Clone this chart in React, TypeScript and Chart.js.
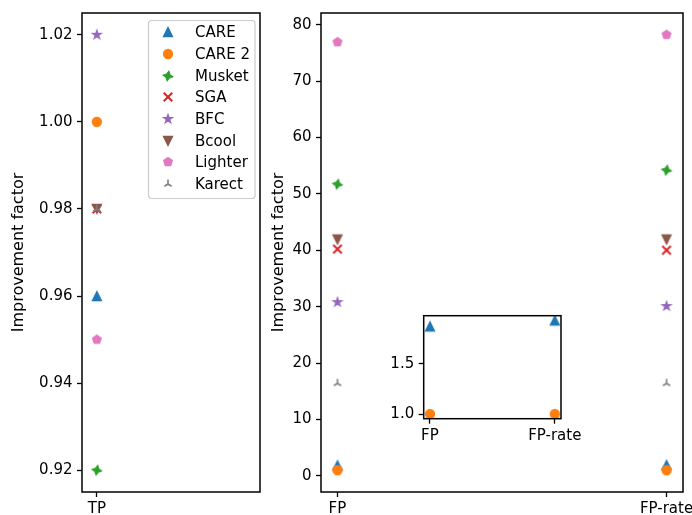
import React, { useEffect, useRef } from 'react';
import { Chart, registerables } from 'chart.js';
Chart.register(...registerables);

// ---------- data ----------
const methods = ['CARE', 'CARE 2', 'Musket', 'SGA', 'BFC', 'Bcool', 'Lighter', 'Karect'];
const colors = ['#1f77b4', '#ff7f0e', '#2ca02c', '#d62728', '#9467bd', '#8c564b', '#e377c2', '#7f7f7f'];
const markerKinds = ['triangleUp', 'circle', 'star4', 'x', 'star5', 'triangleDown', 'pentagon', 'triUp'];
const tpCategories = ['TP'];
const fpCategories = ['FP', 'FP-rate'];
const tpValues = [0.96, 1.0, 0.92, 0.98, 1.02, 0.98, 0.95, 0.98];
const fpValues = [1.87, 1.0, 51.7, 40.2, 30.8, 41.9, 76.9, 16.4];
const fpRateValues = [1.93, 1.0, 54.2, 40.0, 30.1, 41.9, 78.2, 16.4];
const insetMethods = ['CARE', 'CARE 2'];
const tpTicks = [0.92, 0.94, 0.96, 0.98, 1.0, 1.02];
const fpTicks = [0, 10, 20, 30, 40, 50, 60, 70, 80];
const insetTicks = [1.0, 1.5];
const yTitle = 'Improvement factor';

// ---------- style ----------
const FONT = { family: '"DejaVu Sans", sans-serif', size: 15 };
const TITLE_FONT = { family: '"DejaVu Sans", sans-serif', size: 16 };
Chart.defaults.font.family = FONT.family;
Chart.defaults.font.size = FONT.size;
Chart.defaults.color = '#000';

function makeMarker(kind: string, color: string, s = 9): HTMLCanvasElement {
  const size = 16;
  const c = document.createElement('canvas');
  c.width = size;
  c.height = size;
  const ctx = c.getContext('2d')!;
  ctx.translate(size / 2, size / 2);
  ctx.fillStyle = color;
  ctx.strokeStyle = color;
  ctx.lineWidth = 1.3;
  ctx.lineJoin = 'miter';
  const h = s / 2;
  const poly = (pts: number[][]) => {
    ctx.beginPath();
    pts.forEach(([x, y], i) => (i ? ctx.lineTo(x, y) : ctx.moveTo(x, y)));
    ctx.closePath();
    ctx.fill();
    ctx.stroke();
  };
  const star = (n: number, inner: number, rot: number, r: number) => {
    const pts: number[][] = [];
    for (let i = 0; i < 2 * n; i++) {
      const rr = i % 2 ? r * inner : r;
      const a = rot - Math.PI / 2 + (i * Math.PI) / n;
      pts.push([rr * Math.cos(a), rr * Math.sin(a)]);
    }
    poly(pts);
  };
  switch (kind) {
    case 'triangleUp':
      poly([[0, -h], [-h, h], [h, h]]);
      break;
    case 'triangleDown':
      poly([[0, h], [-h, -h], [h, -h]]);
      break;
    case 'circle':
      ctx.beginPath();
      ctx.arc(0, 0, h, 0, Math.PI * 2);
      ctx.fill();
      ctx.stroke();
      break;
    case 'star4':
      star(4, 0.5, (10 * Math.PI) / 180, h * 1.05);
      break;
    case 'star5':
      star(5, 0.381966, 0, h);
      break;
    case 'pentagon': {
      const pts: number[][] = [];
      for (let i = 0; i < 5; i++) {
        const a = -Math.PI / 2 + (i * 2 * Math.PI) / 5;
        pts.push([h * Math.cos(a), h * Math.sin(a)]);
      }
      poly(pts);
      break;
    }
    case 'x':
      ctx.lineWidth = 2;
      ctx.lineCap = 'butt';
      ctx.beginPath();
      ctx.moveTo(-h * 0.95, -h * 0.95);
      ctx.lineTo(h * 0.95, h * 0.95);
      ctx.moveTo(-h * 0.95, h * 0.95);
      ctx.lineTo(h * 0.95, -h * 0.95);
      ctx.stroke();
      break;
    case 'triUp':
      ctx.lineWidth = 1.6;
      ctx.beginPath();
      ctx.moveTo(0, 0);
      ctx.lineTo(0, -h);
      ctx.moveTo(0, 0);
      ctx.lineTo(-0.8 * h, 0.5 * h);
      ctx.moveTo(0, 0);
      ctx.lineTo(0.8 * h, 0.5 * h);
      ctx.stroke();
      break;
  }
  return c;
}

function padRange(vals: number[], frac = 0.05): [number, number] {
  const mn = Math.min(...vals);
  const mx = Math.max(...vals);
  const d = (mx - mn) * frac;
  return [mn - d, mx + d];
}

const framePlugin = {
  id: 'frame',
  beforeDatasetsDraw(chart: any, _a: any, opts: any) {
    if (opts && opts.fill) {
      const { left, top, right, bottom } = chart.chartArea;
      const ctx = chart.ctx;
      ctx.save();
      ctx.fillStyle = '#fff';
      ctx.fillRect(left, top, right - left, bottom - top);
      ctx.restore();
    }
  },
  afterDatasetsDraw(chart: any) {
    const { left, top, right, bottom } = chart.chartArea;
    const ctx = chart.ctx;
    ctx.save();
    ctx.strokeStyle = '#000';
    ctx.lineWidth = 1.5;
    ctx.strokeRect(left, top, right - left, bottom - top);
    ctx.restore();
  },
};

const legendPlugin = {
  id: 'boxLegend',
  afterDraw(chart: any, _a: any, opts: any) {
    if (!opts || !opts.show) return;
    const ctx = chart.ctx;
    const x0 = 148.5, y0 = 20.5, w = 106.5, hgt = 178, r = 3;
    ctx.save();
    ctx.beginPath();
    ctx.moveTo(x0 + r, y0);
    ctx.lineTo(x0 + w - r, y0);
    ctx.quadraticCurveTo(x0 + w, y0, x0 + w, y0 + r);
    ctx.lineTo(x0 + w, y0 + hgt - r);
    ctx.quadraticCurveTo(x0 + w, y0 + hgt, x0 + w - r, y0 + hgt);
    ctx.lineTo(x0 + r, y0 + hgt);
    ctx.quadraticCurveTo(x0, y0 + hgt, x0, y0 + hgt - r);
    ctx.lineTo(x0, y0 + r);
    ctx.quadraticCurveTo(x0, y0, x0 + r, y0);
    ctx.closePath();
    ctx.fillStyle = 'rgba(255,255,255,0.8)';
    ctx.fill();
    ctx.strokeStyle = '#cccccc';
    ctx.lineWidth = 1.2;
    ctx.stroke();
    ctx.font = `${FONT.size}px ${FONT.family}`;
    ctx.textBaseline = 'middle';
    ctx.fillStyle = '#000';
    chart.data.datasets.forEach((ds: any, i: number) => {
      const y = 32.3 + i * 21.67;
      ctx.drawImage(ds.pointStyle, 168 - 8, Math.round(y) - 8);
      ctx.fillText(ds.label, 195, y + 1);
    });
    ctx.restore();
  },
};

interface AxisCfg {
  xRange: [number, number];
  xTicks: number[];
  xLabels: string[];
  yRange: [number, number];
  yTicks: number[];
  yFmt: (v: number) => string;
  yWidth: number;
  xHeight: number;
  padding: { left: number; top: number; right: number; bottom: number };
  title: boolean;
  titlePad: number;
  fill: boolean;
  legend: boolean;
}

function buildConfig(datasets: any[], a: AxisCfg): any {
  const grid = {
    display: true,
    drawOnChartArea: false,
    drawTicks: true,
    tickLength: 5,
    tickWidth: 1.3,
    tickColor: '#000',
    color: '#000',
  };
  return {
    type: 'scatter',
    data: { datasets },
    plugins: [framePlugin, legendPlugin],
    options: {
      animation: false,
      responsive: false,
      devicePixelRatio: 1,
      layout: { padding: a.padding },
      plugins: {
        legend: { display: false },
        tooltip: { enabled: false },
        frame: { fill: a.fill },
        boxLegend: { show: a.legend },
      },
      scales: {
        x: {
          type: 'linear',
          min: a.xRange[0],
          max: a.xRange[1],
          afterBuildTicks: (s: any) => {
            s.ticks = a.xTicks.map((v) => ({ value: v }));
          },
          afterFit: (s: any) => {
            s.height = a.xHeight;
            s.paddingLeft = 0;
            s.paddingRight = 0;
          },
          ticks: {
            autoSkip: false,
            maxRotation: 0,
            minRotation: 0,
            padding: 3,
            color: '#000',
            font: FONT,
            callback: (v: number) => a.xLabels[Math.round(v)] ?? '',
          },
          grid,
          border: { display: false },
        },
        y: {
          type: 'linear',
          min: a.yRange[0],
          max: a.yRange[1],
          afterBuildTicks: (s: any) => {
            s.ticks = a.yTicks.map((v) => ({ value: v }));
          },
          afterFit: (s: any) => {
            s.width = a.yWidth;
            s.paddingTop = 0;
            s.paddingBottom = 0;
          },
          ticks: {
            autoSkip: false,
            padding: 4.5,
            color: '#000',
            font: FONT,
            callback: (v: number) => a.yFmt(v),
          },
          grid,
          border: { display: false },
          title: {
            display: a.title,
            text: yTitle,
            color: '#000',
            font: TITLE_FONT,
            padding: { top: a.titlePad, bottom: 0 },
          },
        },
      },
    },
  };
}

function makeDatasets(names: string[], xs: number[], series: number[][]) {
  return names.map((name) => {
    const i = methods.indexOf(name);
    return {
      label: name,
      data: xs.map((x, k) => ({ x, y: series[k][i] })),
      pointStyle: makeMarker(markerKinds[i], colors[i]),
      pointRadius: 5,
      pointHoverRadius: 5,
      backgroundColor: colors[i],
      borderColor: colors[i],
      showLine: false,
      order: -i,
    };
  });
}

function ChartCanvas(props: { make: () => any; left: number; top: number; width: number; height: number }) {
  const ref = useRef<HTMLCanvasElement>(null);
  useEffect(() => {
    const chart = new Chart(ref.current!, props.make());
    return () => chart.destroy();
  }, []);
  return (
    <canvas
      ref={ref}
      width={props.width}
      height={props.height}
      style={{ position: 'absolute', left: props.left, top: props.top, width: props.width, height: props.height }}
    />
  );
}

export default function App() {
  const makeLeft = () =>
    buildConfig(makeDatasets(methods, [0], [tpValues]), {
      xRange: [-0.5, 5.5],
      xTicks: [0],
      xLabels: tpCategories,
      yRange: padRange(tpValues),
      yTicks: tpTicks,
      yFmt: (v) => v.toFixed(2),
      yWidth: 82,
      xHeight: 23,
      padding: { left: 0, top: 13, right: 3.5, bottom: 0 },
      title: true,
      titlePad: 9.2,
      fill: false,
      legend: true,
    });
  const makeRight = () =>
    buildConfig(makeDatasets(methods, [0, 1], [fpValues, fpRateValues]), {
      xRange: [-0.05, 1.05],
      xTicks: [0, 1],
      xLabels: fpCategories,
      yRange: padRange([...fpValues, ...fpRateValues]),
      yTicks: fpTicks,
      yFmt: (v) => String(Math.round(v)),
      yWidth: 55,
      xHeight: 23,
      padding: { left: 0, top: 13, right: 9, bottom: 0 },
      title: true,
      titlePad: 3.2,
      fill: false,
      legend: false,
    });
  const insetIdx = insetMethods.map((m) => methods.indexOf(m));
  const makeInset = () =>
    buildConfig(makeDatasets(insetMethods, [0, 1], [fpValues, fpRateValues]), {
      xRange: [-0.05, 1.05],
      xTicks: [0, 1],
      xLabels: fpCategories,
      yRange: padRange(insetIdx.flatMap((i) => [fpValues[i], fpRateValues[i]])),
      yTicks: insetTicks,
      yFmt: (v) => v.toFixed(1),
      yWidth: 43.7,
      xHeight: 31.3,
      padding: { left: 0, top: 15.7, right: 59, bottom: 0 },
      title: false,
      titlePad: 0,
      fill: true,
      legend: false,
    });
  return (
    <div style={{ position: 'absolute', left: 0, top: 0, width: 692, height: 515, background: '#fff', overflow: 'hidden' }}>
      <ChartCanvas make={makeLeft} left={0} top={0} width={266} height={515} />
      <ChartCanvas make={makeRight} left={266} top={0} width={426} height={515} />
      <ChartCanvas make={makeInset} left={380} top={300} width={240} height={150} />
    </div>
  );
}
